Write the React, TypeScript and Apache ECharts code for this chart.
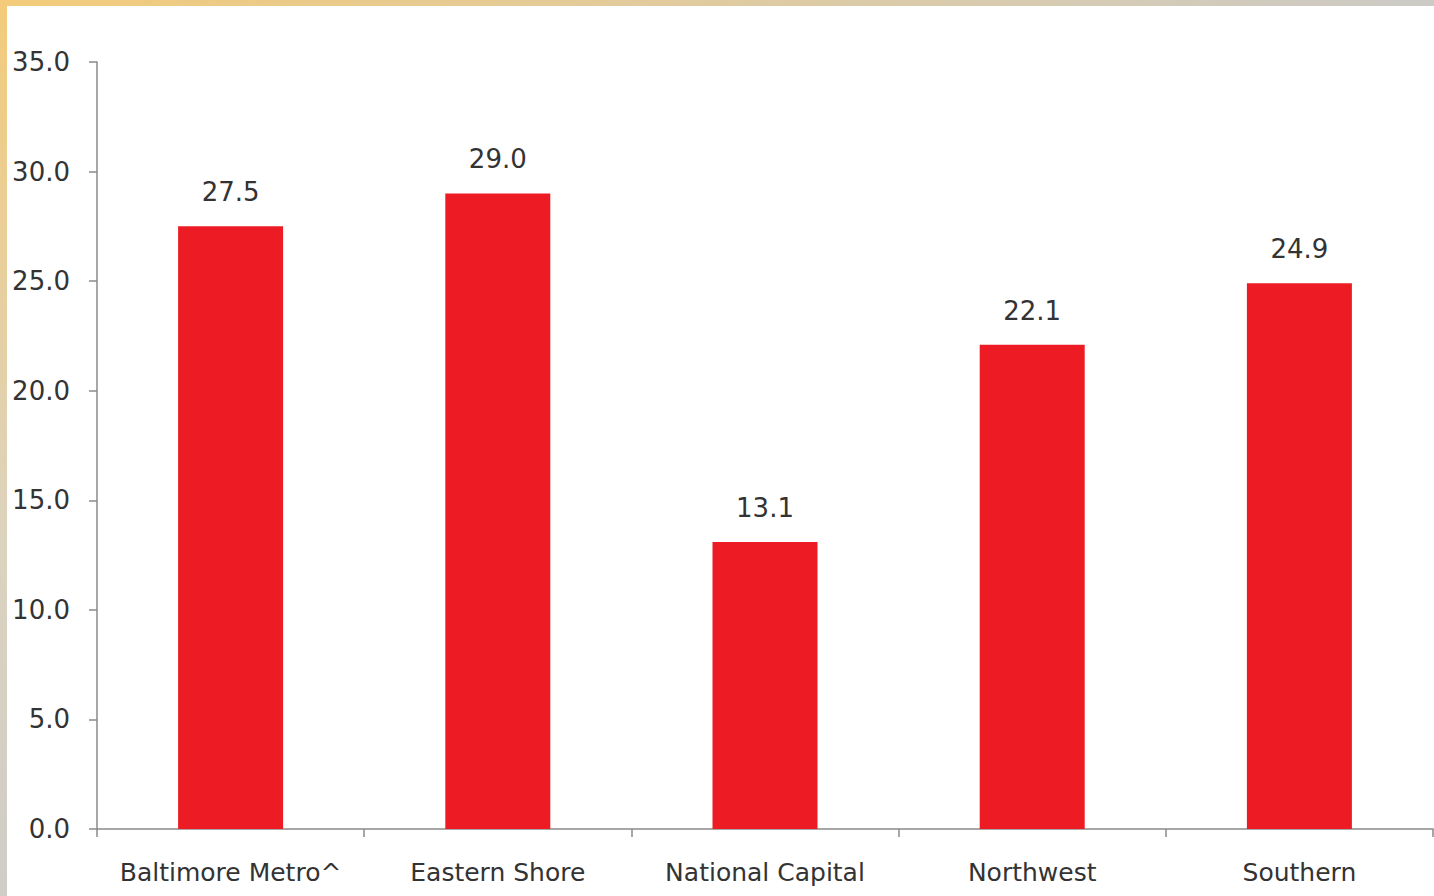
import React, { useEffect, useRef } from "react";
import * as echarts from "echarts";

const categories = ["Baltimore Metro^", "Eastern Shore", "National Capital", "Northwest", "Southern"];
const values = [27.5, 29.0, 13.1, 22.1, 24.9];
const yMin = 0;
const yMax = 35;
const yStep = 5;

export default function App() {
  const ref = useRef<HTMLDivElement>(null);
  useEffect(() => {
    if (!ref.current) return;
    const chart = echarts.init(ref.current, undefined, { renderer: "svg" });
    const font = "'DejaVu Sans', Tahoma, sans-serif";
    chart.setOption({
      animation: false,
      backgroundColor: "#ffffff",
      grid: { left: 97, right: 1, top: 62, bottom: 67, containLabel: false },
      xAxis: {
        type: "category",
        data: categories,
        axisLine: { show: true, lineStyle: { color: "#8a8a8a", width: 1.5 } },
        axisTick: { show: true, interval: 0, alignWithLabel: false, length: 8, lineStyle: { color: "#8a8a8a", width: 1.5 } },
        axisLabel: { interval: 0, hideOverlap: false, color: "#333333", fontSize: 25, fontFamily: font, margin: 31 },
      },
      yAxis: {
        type: "value",
        min: yMin,
        max: yMax,
        interval: yStep,
        splitLine: { show: false },
        axisLine: { show: true, lineStyle: { color: "#8a8a8a", width: 1.5 } },
        axisTick: { show: true, length: 8, lineStyle: { color: "#8a8a8a", width: 1.5 } },
        axisLabel: {
          color: "#333333",
          fontSize: 26,
          fontFamily: font,
          margin: 27,
          formatter: (v: number) => v.toFixed(1),
        },
      },
      series: [
        {
          type: "bar",
          data: values,
          barWidth: 105,
          itemStyle: { color: "#ED1C24" },
          label: {
            show: true,
            position: "top",
            distance: 21,
            color: "#333333",
            fontSize: 26,
            fontFamily: font,
            formatter: (p: any) => Number(p.value).toFixed(1),
          },
        },
      ],
      graphic: [
        {
          type: "rect",
          left: 0,
          top: 0,
          shape: { width: 1434, height: 6 },
          style: {
            fill: new echarts.graphic.LinearGradient(0, 0, 1, 0, [
              { offset: 0, color: "#F3CB7A" },
              { offset: 0.6, color: "#DCCBA8" },
              { offset: 1, color: "#CCCBC7" },
            ]),
          },
          silent: true,
        },
        {
          type: "rect",
          left: 0,
          top: 0,
          shape: { width: 7, height: 896 },
          style: {
            fill: new echarts.graphic.LinearGradient(0, 0, 0, 1, [
              { offset: 0, color: "#F3CB7A" },
              { offset: 0.6, color: "#DCD3BE" },
              { offset: 1, color: "#CFCDC8" },
            ]),
          },
          silent: true,
        },
      ],
    });
    return () => chart.dispose();
  }, []);
  return (
    <div
      ref={ref}
      style={{ position: "fixed", left: 0, top: 0, width: 1434, height: 896 }}
    />
  );
}
